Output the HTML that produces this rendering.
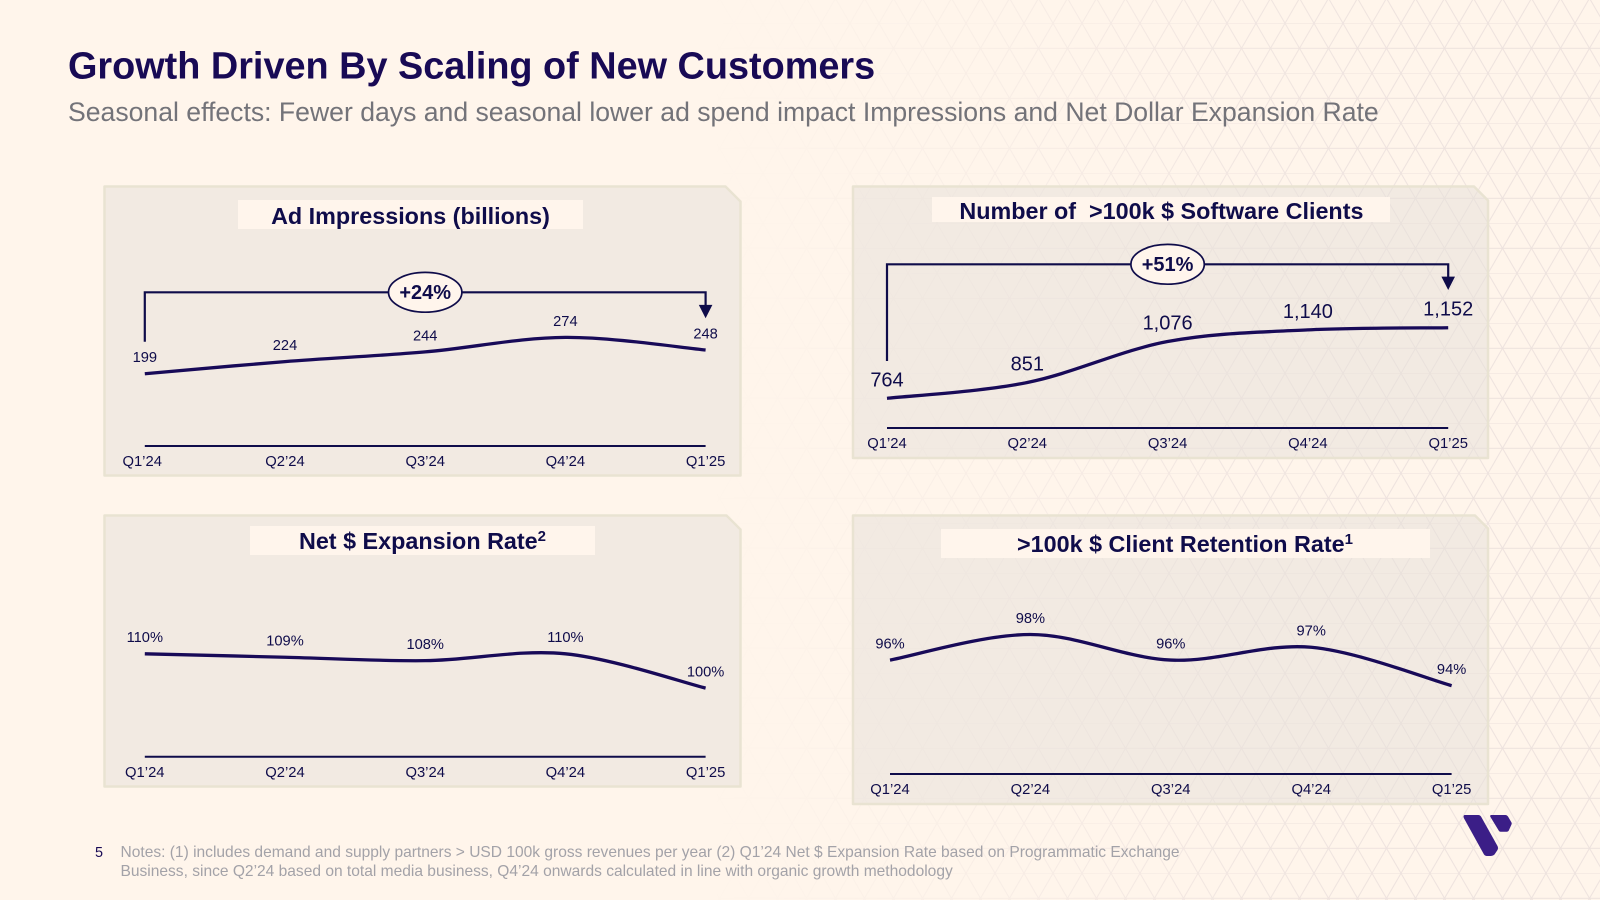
<!DOCTYPE html>
<html lang="en">
<head>
<meta charset="utf-8">
<title>Growth Driven By Scaling of New Customers</title>
<style>
html,body{margin:0;padding:0;width:1600px;height:900px;overflow:hidden;background:#fff5eb}
svg{display:block}
text{font-family:"Liberation Sans",Arial,sans-serif}
</style>
</head>
<body>
<svg id="slide" xmlns="http://www.w3.org/2000/svg" width="1600" height="900" viewBox="0 0 1600 900">
  <defs>
    <pattern id="tri" width="29" height="50" patternUnits="userSpaceOnUse" patternTransform="translate(9 23.3)">
      <g fill="none" stroke="#6e5a82" stroke-opacity="0.12" stroke-width="1">
        <path d="M0 0H29M0 25H29M0 0L14.5 25L29 0M0 50L14.5 25L29 50"/>
      </g>
    </pattern>
    <linearGradient id="fade" x1="0" x2="1" y1="0" y2="0">
      <stop offset="0.44" stop-color="#fff" stop-opacity="0"/>
      <stop offset="0.62" stop-color="#fff" stop-opacity="0.4"/>
      <stop offset="0.78" stop-color="#fff" stop-opacity="0.85"/>
      <stop offset="0.88" stop-color="#fff" stop-opacity="1"/>
    </linearGradient>
    <mask id="fadeMask" maskUnits="userSpaceOnUse" x="0" y="0" width="1600" height="900">
      <rect x="0" y="0" width="1600" height="900" fill="url(#fade)"/>
    </mask>
  </defs>
  <rect x="0" y="0" width="1600" height="900" fill="#fff5eb"/>
  <rect x="0" y="0" width="1600" height="900" fill="url(#tri)" mask="url(#fadeMask)"/>

  <text x="68" y="78.5" font-size="37.85" font-weight="700" fill="#180a55">Growth Driven By Scaling of New Customers</text>
  <text x="68" y="121" font-size="26.6" fill="#737379">Seasonal effects: Fewer days and seasonal lower ad spend impact Impressions and Net Dollar Expansion Rate</text>

  <g id="charts"></g>

  <text x="95" y="857" font-size="14.4" fill="#180a55">5</text>
  <text x="120.5" y="857" font-size="15.55" fill="#a3a2a8">Notes: (1) includes demand and supply partners &gt; USD 100k gross revenues per year (2) Q1’24 Net $ Expansion Rate based on Programmatic Exchange</text>
  <text x="120.5" y="875.8" font-size="15.55" fill="#a3a2a8">Business, since Q2’24 based on total media business, Q4’24 onwards calculated in line with organic growth methodology</text>

  <g fill="#3b1e87">
    <path d="M1464.5 815H1478.5Q1480 815 1481 816.5L1497.5 846Q1498.5 848 1497.5 850L1494.5 854.5Q1493 856 1491 856H1486.5Q1485 856 1484 854.5L1463.8 818Q1463 815.5 1464.5 815Z"/>
    <path d="M1491 815H1505.5Q1507 815 1508 816.5L1511.5 822.5Q1512 823.5 1511.5 824.5L1508.8 830.5Q1508.2 831.7 1507 831.7H1500.5Q1499.5 831.7 1499 831L1490.3 816.8Q1489.8 815.4 1491 815Z"/>
  </g>
</svg>

<script>
// Shared category labels
const quarters = ["Q1’24", "Q2’24", "Q3’24", "Q4’24", "Q1’25"];

// Ad Impressions (billions)
const impressionsValues = [199, 224, 244, 274, 248];
const impressionsLabels = ["199", "224", "244", "274", "248"];

// Number of >100k $ Software Clients
const softwareClientsValues = [764, 851, 1076, 1140, 1152];
const softwareClientsLabels = ["764", "851", "1,076", "1,140", "1,152"];

// Net $ Expansion Rate
const expansionRateValues = [110, 109, 108, 110, 100];
const expansionRateLabels = ["110%", "109%", "108%", "110%", "100%"];

// >100k $ Client Retention Rate
const retentionRateValues = [96, 98, 96, 97, 94];
const retentionRateLabels = ["96%", "98%", "96%", "97%", "94%"];

const NAVY = "#180a58";
const INK = "#0f0c4a";
const SVGNS = "http://www.w3.org/2000/svg";
const root = document.getElementById("charts");

function make(parent, tag, attrs, txt) {
  const el = document.createElementNS(SVGNS, tag);
  for (const k in attrs) el.setAttribute(k, attrs[k]);
  if (txt !== undefined) el.textContent = txt;
  parent.appendChild(el);
  return el;
}

function smoothPath(pts) {
  let d = "M" + pts[0][0].toFixed(2) + " " + pts[0][1].toFixed(2);
  for (let i = 0; i < pts.length - 1; i++) {
    const p0 = pts[Math.max(i - 1, 0)];
    const p1 = pts[i];
    const p2 = pts[i + 1];
    const p3 = pts[Math.min(i + 2, pts.length - 1)];
    const c1x = p1[0] + (p2[0] - p0[0]) / 6;
    const c1y = p1[1] + (p2[1] - p0[1]) / 6;
    const c2x = p2[0] - (p3[0] - p1[0]) / 6;
    const c2y = p2[1] - (p3[1] - p1[1]) / 6;
    d += "C" + c1x.toFixed(2) + " " + c1y.toFixed(2) + " " + c2x.toFixed(2) + " " + c2y.toFixed(2) + " " + p2[0].toFixed(2) + " " + p2[1].toFixed(2);
  }
  return d;
}

function drawChart(c) {
  const g = make(root, "g", {});
  
  

  // Panel with a clipped top-right corner
  const panel = make(g, "polygon", {
    points: [[c.left, c.top], [c.right - c.cut, c.top], [c.right, c.top + c.cut], [c.right, c.bottom], [c.left, c.bottom]].join(" "),
    fill: "#e6dfd9", "fill-opacity": "0.5", stroke: "#e9e3d2", "stroke-width": "2.5", "stroke-linejoin": "round"
  });
  
  

  const titleBox = make(g, "rect", {
    x: c.box[0], y: c.box[1], width: c.box[2], height: c.box[3], fill: "#fff5ec"
  });
  
  

  const title = make(g, "text", {
    x: c.titleX, y: c.titleY, "font-size": "23.35", "font-weight": "700", fill: INK, "text-anchor": "middle", "xml:space": "preserve"
  }, c.title);
  title.style.whiteSpace = "pre";
  
  
  if (c.sup) {
    const sup = make(title, "tspan", { "font-size": "15", dy: "-8" }, c.sup);
    
    
  }

  // Axis functions
  const xScale = function (i) { return c.x0 + i * c.dx; };
  const yScale = function (v) { return c.axisY - (v - c.domainMin) * c.pxPerUnit; };

  // Baseline axis
  const axis = make(g, "line", {
    x1: xScale(0), x2: xScale(quarters.length - 1), y1: c.axisY, y2: c.axisY, stroke: INK, "stroke-width": "2"
  });
  
  

  // Tick labels
  quarters.forEach(function (q, i) {
    const dx = (i === 0 && c.firstTickShift) ? c.firstTickShift : 0;
    const tick = make(g, "text", {
      x: xScale(i) + dx, y: c.tickY, "font-size": "14.8", fill: INK, "text-anchor": "middle"
    }, q);
    
    
  });

  // Series line
  const pts = c.values.map(function (v, i) { return [xScale(i), yScale(v)]; });
  const line = make(g, "path", {
    d: smoothPath(pts), fill: "none", stroke: NAVY, "stroke-width": "3.3"
  });
  
  

  // Value labels
  c.values.forEach(function (v, i) {
    const lab = make(g, "text", {
      x: xScale(i), y: yScale(v) - c.labelGap, "font-size": c.labelSize, fill: INK, "text-anchor": "middle"
    }, c.labels[i]);
    
    
  });

  // Growth bracket
  if (c.bracket) {
    const b = c.bracket;
    const xa = xScale(0);
    const xb = xScale(quarters.length - 1);
    const bracket = make(g, "path", {
      d: "M" + xa + " " + b.startY + "V" + b.y + "H" + xb + "V" + (b.tip - 12),
      fill: "none", stroke: INK, "stroke-width": "2.2"
    });
    
    

    const head = make(g, "polygon", {
      points: (xb - 6.8) + "," + (b.tip - 13.4) + " " + (xb + 6.8) + "," + (b.tip - 13.4) + " " + xb + "," + b.tip,
      fill: INK
    });
    
    

    const oval = make(g, "ellipse", {
      cx: xScale(2), cy: b.y, rx: 36.7, ry: 19.9, fill: "#fff5ec", stroke: INK, "stroke-width": "1.7"
    });
    
    

    const pct = make(g, "text", {
      x: xScale(2), y: b.y + 6.9, "font-size": "20", "font-weight": "700", fill: INK, "text-anchor": "middle"
    }, b.text);
    
    
  }
}

drawChart({
  id: "ad-impressions", title: "Ad Impressions (billions)",
  left: 104.5, right: 740.5, top: 186.5, bottom: 475.5, cut: 15,
  box: [238, 200, 345, 29], titleX: 410.5, titleY: 224,
  x0: 144.8, dx: 140.2, axisY: 446, domainMin: 50, pxPerUnit: 0.485, tickY: 466,
  firstTickShift: -2.6, labelGap: 11.6, labelSize: 14.67,
  values: impressionsValues, labels: impressionsLabels,
  bracket: { startY: 341.7, y: 292.3, tip: 318.3, text: "+24%" }
});

drawChart({
  id: "software-clients", title: "Number of  >100k $ Software Clients",
  left: 853, right: 1488, top: 186.5, bottom: 458, cut: 14,
  box: [932, 197, 458, 25], titleX: 1161.4, titleY: 219,
  x0: 887, dx: 140.3, axisY: 428, domainMin: 601, pxPerUnit: 0.182, tickY: 448,
  labelGap: 12, labelSize: 20,
  values: softwareClientsValues, labels: softwareClientsLabels,
  bracket: { startY: 361, y: 264.3, tip: 290, text: "+51%" }
});

drawChart({
  id: "expansion-rate", title: "Net $ Expansion Rate", sup: "2",
  left: 104.5, right: 740.5, top: 515.5, bottom: 786.5, cut: 14,
  box: [250, 526, 345, 29], titleX: 422.5, titleY: 549,
  x0: 144.8, dx: 140.2, axisY: 756.7, domainMin: 80, pxPerUnit: 3.43, tickY: 777,
  labelGap: 11.6, labelSize: 14.67,
  values: expansionRateValues, labels: expansionRateLabels
});

drawChart({
  id: "retention-rate", title: ">100k $ Client Retention Rate", sup: "1",
  left: 853, right: 1488, top: 515.5, bottom: 804, cut: 13,
  box: [941, 529, 489, 29], titleX: 1185, titleY: 552,
  x0: 890, dx: 140.4, axisY: 774, domainMin: 87.1, pxPerUnit: 12.8, tickY: 794,
  labelGap: 11.6, labelSize: 14.67,
  values: retentionRateValues, labels: retentionRateLabels
});
</script>
</body>
</html>
